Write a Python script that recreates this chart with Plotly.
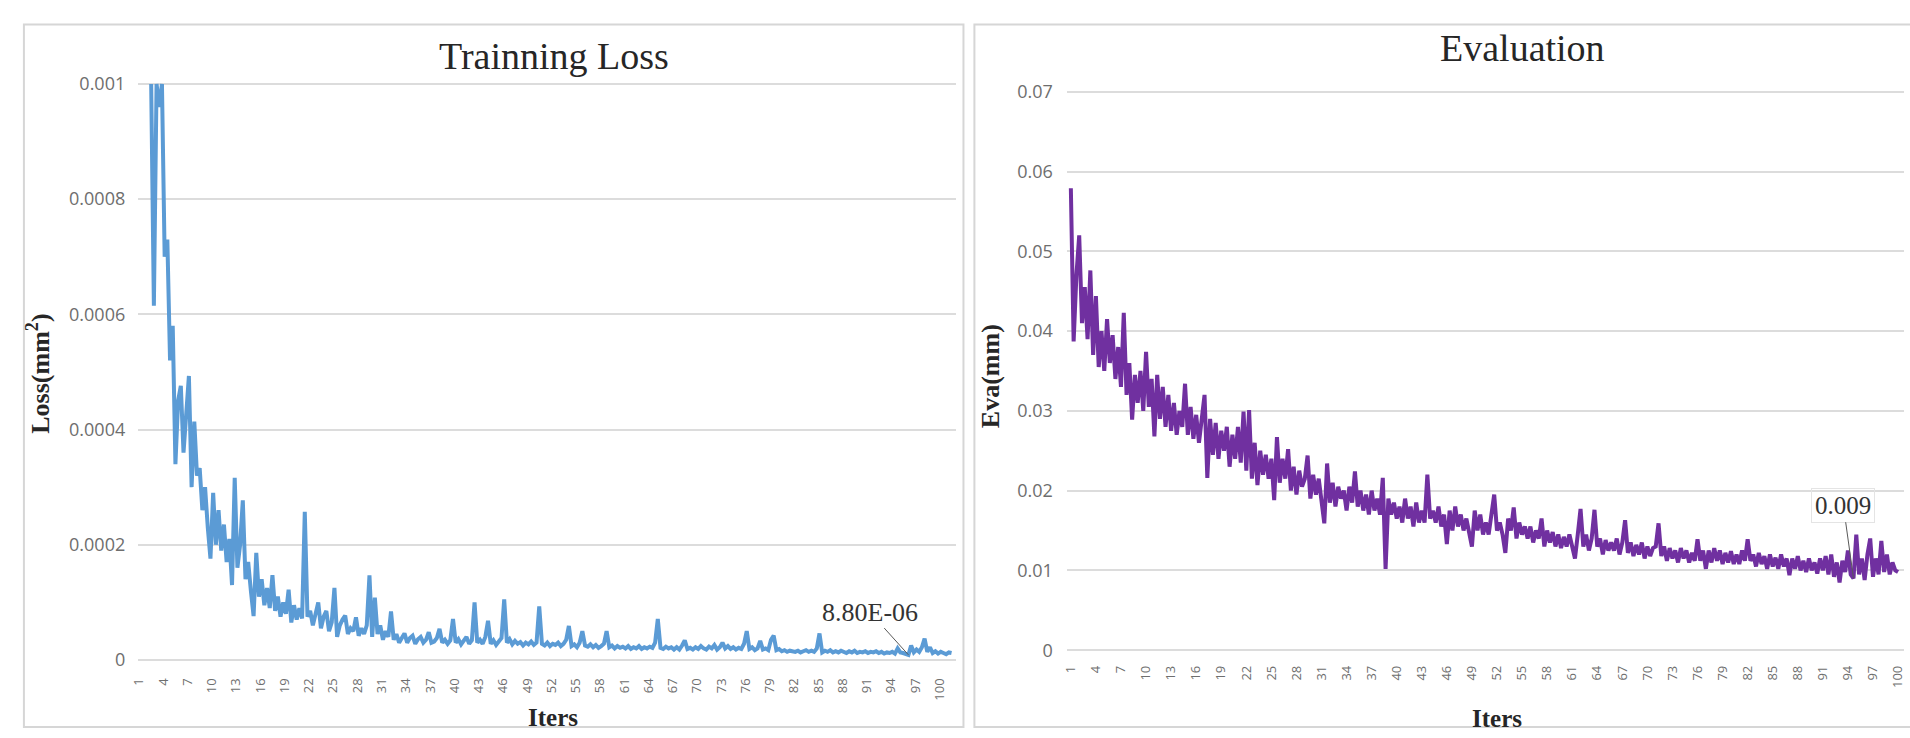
import plotly.graph_objects as go

# ---------------------------------------------------------------------------
# Data (three samples per iteration)
# ---------------------------------------------------------------------------
# Training loss in units of 1e-6 mm^2
train_loss_u = [
    1000, 615, 1000, 960, 1000, 700, 730, 520, 580, 340, 450, 476, 360, 420, 493,
    300, 414, 320, 333, 260, 300, 230, 176, 290, 200, 260, 190, 235, 170, 210,
    130, 316, 160, 200, 277, 140, 170, 120, 76, 186, 110, 140, 95, 125, 90,
    147, 85, 110, 75, 100, 80, 122, 65, 95, 70, 90, 72, 257, 75, 85,
    60, 80, 100, 55, 75, 85, 50, 65, 125, 40, 60, 70, 77, 45, 55,
    50, 74, 42, 55, 45, 60, 147, 40, 108, 45, 60, 35, 50, 40, 84,
    35, 45, 30, 38, 46, 30, 38, 42, 28, 36, 40, 30, 35, 48, 30,
    32, 38, 54, 30, 35, 28, 34, 71, 30, 36, 27, 33, 40, 28, 34,
    100, 30, 35, 28, 40, 68, 28, 34, 26, 32, 38, 105, 30, 36, 27,
    33, 28, 31, 25, 30, 27, 32, 26, 30, 93, 28, 25, 30, 24, 28,
    26, 30, 24, 28, 35, 59, 24, 27, 22, 30, 50, 25, 23, 27, 22,
    26, 21, 24, 28, 50, 22, 25, 20, 24, 21, 23, 20, 24, 19, 22,
    20, 24, 19, 22, 20, 23, 21, 30, 71, 21, 19, 23, 20, 22, 18,
    22, 18, 25, 34, 19, 21, 18, 22, 19, 24, 20, 18, 23, 20, 26,
    18, 22, 30, 20, 24, 19, 22, 18, 21, 19, 28, 50, 19, 22, 17,
    20, 33, 18, 20, 17, 35, 42, 17, 19, 15, 17, 14, 16, 15, 14,
    16, 13, 15, 17, 14, 16, 14, 20, 46, 13, 16, 14, 17, 13, 15,
    13, 16, 14, 12, 15, 13, 16, 12, 14, 13, 15, 12, 14, 13, 15,
    12, 14, 11, 13, 12, 14, 11, 20, 13, 12, 10, 8.8, 25, 13, 18,
    14, 22, 37, 14, 22, 12, 15, 11, 14, 12, 10, 13, 12,
]
train_loss = [v * 1e-6 for v in train_loss_u]

# Evaluation error (mm)
eval_mm = [
    0.0579, 0.0387, 0.0470, 0.0520, 0.0410, 0.0455, 0.0390, 0.0476, 0.0370, 0.0444, 0.0355, 0.0400, 0.0350, 0.0415, 0.0360,
    0.0395, 0.0340, 0.0380, 0.0330, 0.0423, 0.0320, 0.0360, 0.0289, 0.0345, 0.0310, 0.0350, 0.0300, 0.0374, 0.0305, 0.0340,
    0.0268, 0.0345, 0.0290, 0.0330, 0.0280, 0.0320, 0.0275, 0.0310, 0.0270, 0.0300, 0.0280, 0.0334, 0.0270, 0.0305, 0.0265,
    0.0295, 0.0260, 0.0290, 0.0320, 0.0216, 0.0290, 0.0245, 0.0285, 0.0240, 0.0275, 0.0250, 0.0280, 0.0230, 0.0270, 0.0240,
    0.0280, 0.0235, 0.0299, 0.0225, 0.0301, 0.0215, 0.0260, 0.0207, 0.0250, 0.0220, 0.0245, 0.0215, 0.0240, 0.0188, 0.0267,
    0.0210, 0.0240, 0.0215, 0.0252, 0.0200, 0.0230, 0.0195, 0.0225, 0.0205, 0.0215, 0.0244, 0.0190, 0.0220, 0.0195, 0.0215,
    0.0185, 0.0159, 0.0234, 0.0185, 0.0210, 0.0180, 0.0205, 0.0190, 0.0200, 0.0175, 0.0205, 0.0185, 0.0224, 0.0180, 0.0200,
    0.0175, 0.0195, 0.0170, 0.0200, 0.0175, 0.0190, 0.0170, 0.0216, 0.0102, 0.0190, 0.0170, 0.0185, 0.0165, 0.0180, 0.0160,
    0.0190, 0.0165, 0.0180, 0.0155, 0.0185, 0.0160, 0.0175, 0.0160, 0.0220, 0.0165, 0.0175, 0.0160, 0.0180, 0.0155, 0.0170,
    0.0133, 0.0175, 0.0150, 0.0180, 0.0155, 0.0170, 0.0150, 0.0165, 0.0145, 0.0130, 0.0175, 0.0150, 0.0170, 0.0145, 0.0160,
    0.0145, 0.0170, 0.0195, 0.0150, 0.0160, 0.0145, 0.0122, 0.0165, 0.0150, 0.0179, 0.0140, 0.0160, 0.0145, 0.0155, 0.0140,
    0.0155, 0.0135, 0.0150, 0.0140, 0.0165, 0.0130, 0.0150, 0.0135, 0.0148, 0.0130, 0.0145, 0.0128, 0.0142, 0.0130, 0.0145,
    0.0130, 0.0115, 0.0145, 0.0177, 0.0130, 0.0145, 0.0125, 0.0140, 0.0176, 0.0130, 0.0140, 0.0120, 0.0138, 0.0125, 0.0135,
    0.0125, 0.0140, 0.0120, 0.0135, 0.0163, 0.0122, 0.0135, 0.0118, 0.0132, 0.0120, 0.0135, 0.0115, 0.0130, 0.0118, 0.0128,
    0.0130, 0.0159, 0.0118, 0.0130, 0.0112, 0.0128, 0.0115, 0.0125, 0.0110, 0.0128, 0.0115, 0.0125, 0.0110, 0.0122, 0.0112,
    0.0139, 0.0112, 0.0125, 0.0102, 0.0125, 0.0110, 0.0128, 0.0112, 0.0125, 0.0108, 0.0122, 0.0110, 0.0124, 0.0108, 0.0120,
    0.0108, 0.0125, 0.0112, 0.0139, 0.0112, 0.0120, 0.0105, 0.0122, 0.0108, 0.0118, 0.0102, 0.0120, 0.0105, 0.0116, 0.0102,
    0.0120, 0.0105, 0.0115, 0.0094, 0.0115, 0.0102, 0.0118, 0.0100, 0.0112, 0.0098, 0.0115, 0.0100, 0.0110, 0.0096, 0.0115,
    0.0100, 0.0118, 0.0095, 0.0120, 0.0092, 0.0110, 0.0085, 0.0112, 0.0098, 0.0125, 0.0095, 0.0090, 0.0145, 0.0095, 0.0115,
    0.0088, 0.0120, 0.0140, 0.0092, 0.0115, 0.0095, 0.0137, 0.0098, 0.0120, 0.0095, 0.0110, 0.0100, 0.0098,
]

# Iteration position of every sample
loss_iters = [1 + i / 3 for i in range(len(train_loss))]
eval_iters = [1 + i / 3 for i in range(len(eval_mm))]

# Samples carrying a data label
loss_label_idx = 281
eval_label_idx = 281

# Axis ticks
iter_ticks = [1, 4, 7, 10, 13, 16, 19, 22, 25, 28, 31, 34, 37, 40, 43, 46, 49,
              52, 55, 58, 61, 64, 67, 70, 73, 76, 79, 82, 85, 88, 91, 94, 97, 100]
iter_tick_text = [str(t) for t in iter_ticks]
loss_ticks = [0, 0.0002, 0.0004, 0.0006, 0.0008, 0.001]
loss_tick_text = ["0", "0.0002", "0.0004", "0.0006", "0.0008", "0.001"]
eval_ticks = [0, 0.01, 0.02, 0.03, 0.04, 0.05, 0.06, 0.07]
eval_tick_text = ["0", "0.01", "0.02", "0.03", "0.04", "0.05", "0.06", "0.07"]

# ---------------------------------------------------------------------------
# Layout geometry (pixels on a 1910 x 738 canvas)
# ---------------------------------------------------------------------------
W, H = 1910, 738


def fx(p):
    return p / W


def fy(p):
    return 1 - p / H


# left panel: iteration 1 -> 143 px, 100 -> 948 px; loss 0 -> 667 px, 0.001 -> 75 px
L_X0, L_X1 = 130, 952
L_I1, L_I100 = 143, 948
L_Y0PX, L_YTPX = 667, 75
l_per_it = (L_I100 - L_I1) / 99
l_per_val = (L_Y0PX - L_YTPX) / 0.001
L_PAD = 5
l_xrange = [1 - (L_I1 - L_X0) / l_per_it, 100 + (L_X1 - L_I100) / l_per_it]
l_yrange = [-L_PAD / l_per_val, 0.001 + L_PAD / l_per_val]
L_LABEL_SHIFT = -12 / l_per_it   # category labels sit a little left of the samples

# right panel: iteration 1 -> 1068 px, 100 -> 1900 px; eval 0 -> 657 px, 0.07 -> 83 px
R_X0, R_X1 = 1064, 1906
R_I1, R_I100 = 1068, 1900
R_Y0PX, R_YTPX = 657, 83
r_per_it = (R_I100 - R_I1) / 99
r_per_val = (R_Y0PX - R_YTPX) / 0.07
R_PAD = 2
r_xrange = [1 - (R_I1 - R_X0) / r_per_it, 100 + (R_X1 - R_I100) / r_per_it]
r_yrange = [-R_PAD / r_per_val, 0.07 + R_PAD / r_per_val]

GRID = "#DCDCDC"
TICK_FONT = dict(family="Open Sans, Arial, sans-serif", size=18, color="#6E6E6E")
XTICK_FONT = dict(family="Open Sans, Arial, sans-serif", size=13, color="#6E6E6E")
SERIF = "Liberation Serif, Times New Roman, serif"

fig = go.Figure()

fig.add_trace(go.Scatter(
    x=loss_iters, y=train_loss, mode="lines", name="Loss",
    line=dict(color="#5B9BD5", width=4), xaxis="x", yaxis="y",
    showlegend=False,
))
fig.add_trace(go.Scatter(
    x=eval_iters, y=eval_mm, mode="lines", name="Eva",
    line=dict(color="#7030A0", width=4), xaxis="x2", yaxis="y2",
    showlegend=False,
))

common_x = dict(
    showgrid=False, zeroline=False, showline=False, ticks="",
    tickmode="array", ticktext=iter_tick_text,
    tickangle=-90, tickfont=XTICK_FONT, ticklabelstandoff=10,
)
common_y = dict(
    showgrid=True, gridcolor=GRID, gridwidth=1.5, zeroline=False,
    showline=False, ticks="", tickmode="array", tickfont=TICK_FONT,
)

fig.update_layout(
    width=W, height=H,
    margin=dict(l=0, r=0, t=0, b=0),
    paper_bgcolor="white", plot_bgcolor="white",
    xaxis=dict(domain=[fx(L_X0), fx(L_X1)], range=l_xrange, anchor="y",
               tickvals=[t + L_LABEL_SHIFT for t in iter_ticks], **common_x),
    yaxis=dict(domain=[fy(L_Y0PX + L_PAD), fy(L_YTPX - L_PAD)], range=l_yrange,
               anchor="x", tickvals=loss_ticks, ticktext=loss_tick_text,
               ticklabelstandoff=12, **common_y),
    xaxis2=dict(domain=[fx(R_X0), fx(R_X1)], range=r_xrange, anchor="y2",
                tickvals=iter_ticks, **common_x),
    yaxis2=dict(domain=[fy(R_Y0PX + R_PAD), fy(R_YTPX - R_PAD)], range=r_yrange,
                anchor="x2", tickvals=eval_ticks, ticktext=eval_tick_text,
                ticklabelstandoff=13, **common_y),
)

# chart-area frames
for x0, x1 in [(15, 960), (971, 1925)]:
    fig.add_shape(type="rect", xref="paper", yref="paper",
                  x0=fx(x0), x1=fx(x1), y0=fy(736), y1=fy(14),
                  line=dict(color="#D6D6D6", width=2), fillcolor="rgba(0,0,0,0)",
                  layer="below")

# titles and axis titles
texts = [
    ("Trainning Loss", 548, 46, 38, False, 0),
    ("Evaluation", 1522, 38, 38, False, 0),
    ("Iters", 547, 726, 25, True, 0),
    ("Iters", 1497, 727, 25, True, 0),
    ("Loss(mm<sup>2</sup>)", 30, 373, 26, True, -90),
    ("Eva(mm)", 988, 375, 26, True, -90),
]
for txt, px, py, size, bold, ang in texts:
    fig.add_annotation(
        xref="paper", yref="paper", x=fx(px), y=fy(py),
        xanchor="center", yanchor="middle", showarrow=False, textangle=ang,
        text=f"<b>{txt}</b>" if bold else txt,
        font=dict(family=SERIF, size=size, color="#262626"),
    )

# data labels with leader lines
lx, lv = loss_iters[loss_label_idx], train_loss[loss_label_idx]
l_pt_px = (L_I1 + (lx - 1) * l_per_it, L_Y0PX - lv * l_per_val)
fig.add_annotation(
    x=lx, y=lv, xref="x", yref="y",
    text=f"{lv:.2E}", showarrow=True, arrowhead=0, arrowwidth=1,
    arrowcolor="#595959", standoff=0,
    ax=866 - l_pt_px[0], ay=619 - l_pt_px[1],
    font=dict(family=SERIF, size=26, color="#333333"),
)
ex, ev = eval_iters[eval_label_idx], eval_mm[eval_label_idx]
r_pt_px = (R_I1 + (ex - 1) * r_per_it, R_Y0PX - ev * r_per_val)
fig.add_annotation(
    x=ex, y=ev, xref="x2", yref="y2",
    text=f"{ev:.3f}", showarrow=True, arrowhead=0, arrowwidth=1,
    arrowcolor="#595959", standoff=0,
    ax=1845 - r_pt_px[0], ay=510 - r_pt_px[1],
    bordercolor="#E4E4E4", borderwidth=1, borderpad=3, bgcolor="rgba(255,255,255,0)",
    font=dict(family=SERIF, size=25, color="#333333"),
)

fig.write_html("out.html")
